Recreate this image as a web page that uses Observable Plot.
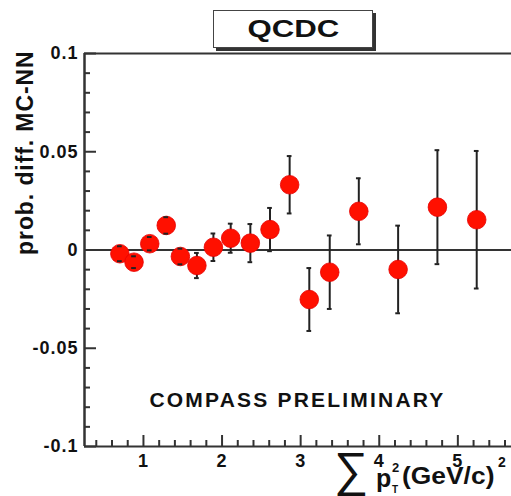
<!DOCTYPE html>
<html>
<head>
<meta charset="utf-8">
<script src="https://cdn.jsdelivr.net/npm/d3@7"></script>
<script src="https://cdn.jsdelivr.net/npm/@observablehq/plot@0.6"></script>
<style>
  html, body { margin: 0; padding: 0; background: #fff; overflow: hidden; }
  #wrap { position: relative; width: 511px; height: 496px; overflow: hidden; font-family: "Liberation Sans", Arial, sans-serif; color: #111; }
  #wrap svg { position: absolute; left: 0; top: 0; max-width: none; }
  #title { position: absolute; left: 213px; top: 10px; width: 158px; height: 36px; border: 1.5px solid #444; background: #fff;
           box-shadow: 3px 3px 0 #333; display: flex; align-items: center; justify-content: center; }
  #title span { display: inline-block; font-weight: bold; font-size: 24px; transform: scaleX(1.3); }
  .xl { position: absolute; font-weight: bold; line-height: 1; white-space: nowrap; }
</style>
</head>
<body>
<div id="wrap"></div>
<script>
// Data
const xVals = [0.70, 0.88, 1.08, 1.29, 1.47, 1.68, 1.89, 2.11, 2.36, 2.61, 2.86, 3.11, 3.37, 3.74, 4.24, 4.74, 5.24];
const yVals = [-0.0019, -0.0062, 0.0032, 0.0125, -0.0033, -0.0079, 0.0014, 0.0060, 0.0035, 0.0104, 0.0332, -0.0252, -0.0113, 0.0197, -0.0099, 0.0218, 0.0154];
const yErr  = [0.0038, 0.0030, 0.0034, 0.0042, 0.0040, 0.0064, 0.0070, 0.0074, 0.0097, 0.0110, 0.0146, 0.0160, 0.0187, 0.0168, 0.0223, 0.0290, 0.0350];

const xMajorTicks = [1, 2, 3, 4, 5];
const xMinorTicks = [0.4, 0.6, 0.8, 1.2, 1.4, 1.6, 1.8, 2.2, 2.4, 2.6, 2.8, 3.2, 3.4, 3.6, 3.8, 4.2, 4.4, 4.6, 4.8, 5.2, 5.4, 5.6];
const yMajorTicks = [-0.1, -0.05, 0, 0.05, 0.1];
const yTickLabels = ["-0.1", "-0.05", "0", "0.05", "0.1"];
const yMinorTicks = [-0.09, -0.08, -0.07, -0.06, -0.04, -0.03, -0.02, -0.01, 0.01, 0.02, 0.03, 0.04, 0.06, 0.07, 0.08, 0.09];

const titleText = "QCDC";
const yLabel = "prob. diff. MC-NN";
const watermark = "COMPASS PRELIMINARY";

const data = xVals.map((x, i) => ({x, y: yVals[i], e: yErr[i]}));
const capHalf = 0.03;
const axisColor = "#333";
// the frame continues past the right edge of the 511px picture, as in the reference
const W = 560, H = 496, mL = 84, mR = 0, mT = 53, mB = 50;
const frameW = W - mL - mR, frameH = H - mT - mB;
const xMax = 0.25 + frameW / 78.6;

const chart = Plot.plot({
  width: W, height: H,
  marginLeft: mL, marginRight: mR, marginTop: mT, marginBottom: mB,
  style: {fontFamily: "'Liberation Sans', Arial, sans-serif", fontWeight: "bold", fontSize: "18px", color: "#111", background: "transparent", overflow: "visible", maxWidth: "none"},
  x: {domain: [0.25, xMax]},
  y: {domain: [-0.1, 0.1]},
  marks: [
    Plot.ruleY([0.1], {stroke: axisColor, strokeWidth: 2}),
    Plot.ruleY([-0.1], {stroke: axisColor, strokeWidth: 2}),
    Plot.ruleX([0.25], {stroke: axisColor, strokeWidth: 2.5}),
    Plot.tickX(xMajorTicks, {x: d => d, insetTop: frameH - 11, stroke: axisColor, strokeWidth: 2}),
    Plot.tickX(xMinorTicks, {x: d => d, insetTop: frameH - 6, stroke: axisColor, strokeWidth: 2}),
    Plot.tickY(yMajorTicks, {y: d => d, insetRight: frameW - 12, stroke: axisColor, strokeWidth: 2}),
    Plot.tickY(yMinorTicks, {y: d => d, insetRight: frameW - 6, stroke: axisColor, strokeWidth: 2}),
    Plot.axisX({ticks: xMajorTicks, tickSize: 0, tickPadding: 8, label: null, tickFormat: d => String(d)}),
    Plot.axisY({ticks: yMajorTicks, tickSize: 0, tickPadding: 6, label: null,
                tickFormat: d => yTickLabels[yMajorTicks.indexOf(d)]}),
    Plot.ruleY([0], {stroke: axisColor, strokeWidth: 2}),
    Plot.ruleX(data, {x: "x", y1: d => d.y - d.e, y2: d => d.y + d.e, stroke: "#222", strokeWidth: 2}),
    Plot.dot(data, {x: "x", y: "y", r: 9.3, fill: "#ff1000", stroke: "#e60000", strokeWidth: 0.8}),
    Plot.ruleY(data, {y: d => d.y + d.e, x1: d => d.x - capHalf, x2: d => d.x + capHalf, stroke: "#222", strokeWidth: 2}),
    Plot.ruleY(data, {y: d => d.y - d.e, x1: d => d.x - capHalf, x2: d => d.x + capHalf, stroke: "#222", strokeWidth: 2}),
    Plot.text([yLabel], {frameAnchor: "top-left", rotate: -90, textAnchor: "end", lineAnchor: "middle",
                         dx: -59, dy: -3, fontSize: 23, fontWeight: "bold", fill: "#111"}),
    Plot.text([watermark], {x: () => 2.96, frameAnchor: "bottom", lineAnchor: "middle", dy: -46, fontSize: 21, fontWeight: "bold", fill: "#111"})
  ]
});

const wrap = document.getElementById("wrap");
wrap.appendChild(chart);

chart.querySelectorAll("text").forEach(t => {
  const s = t.textContent;
  if (s === watermark) t.style.letterSpacing = "2.2px";
  else if (s === yLabel) t.style.letterSpacing = "0.9px";
  else t.style.letterSpacing = "1px";
});

const title = document.createElement("div");
title.id = "title";
title.innerHTML = `<span>${titleText}</span>`;
wrap.appendChild(title);

// X axis label: ∑ p_T^2 (GeV/c)^2
const parts = [
  {t: "∑", left: 334, top: 446, size: 48, weight: "normal"},
  {t: "p", left: 376, top: 466, size: 25},
  {t: "2", left: 392, top: 461, size: 13},
  {t: "T", left: 392, top: 485, size: 10},
  {t: "(GeV/c)", left: 402, top: 464, size: 24},
  {t: "2", left: 498, top: 455, size: 14}
];
parts.forEach(p => {
  const s = document.createElement("span");
  s.className = "xl";
  s.textContent = p.t;
  s.style.left = p.left + "px";
  s.style.top = p.top + "px";
  s.style.fontSize = p.size + "px";
  if (p.weight) s.style.fontWeight = p.weight;
  if (p.t === "(GeV/c)") { s.style.transform = "scaleX(1.1)"; s.style.transformOrigin = "left"; }
  wrap.appendChild(s);
});
</script>
</body>
</html>
